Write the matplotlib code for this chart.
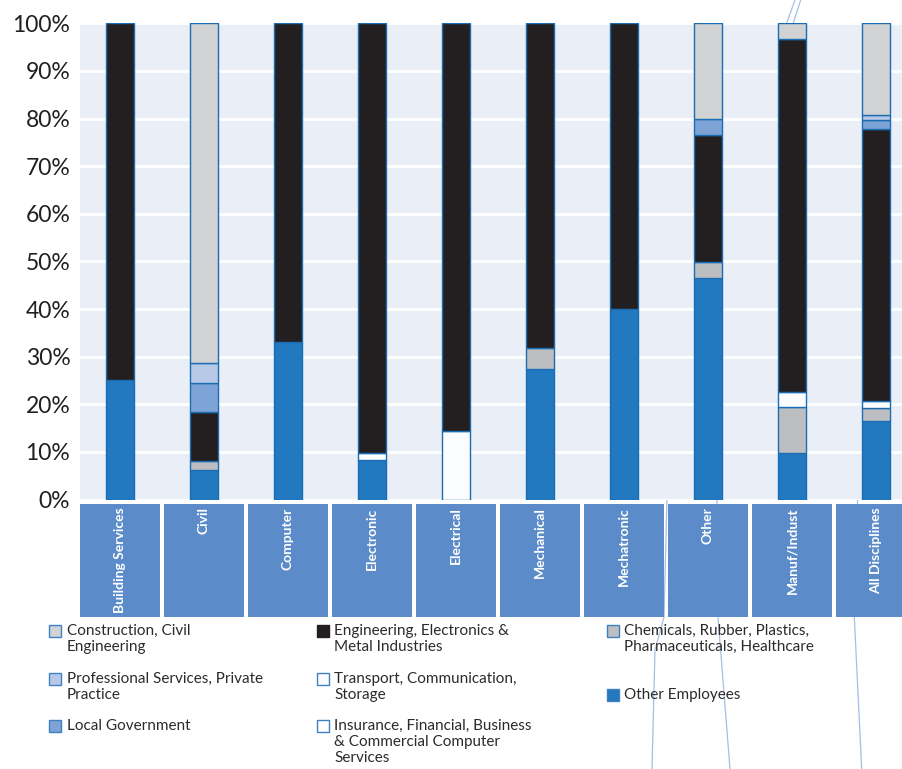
import matplotlib
matplotlib.use("Agg")
import matplotlib.pyplot as plt
from matplotlib.patches import Rectangle
from matplotlib.lines import Line2D
from matplotlib.transforms import blended_transform_factory

# ---------------------------------------------------------------------------
# Data: share of graduates (%) by employer sector, per engineering discipline
# ---------------------------------------------------------------------------
categories = ["Building Services", "Civil", "Computer", "Electronic", "Electrical",
              "Mechanical", "Mechatronic", "Other", "Manuf/Indust", "All Disciplines"]

other_employees = [25.1, 6.2, 33.1, 8.2, 0.0, 27.4, 40.1, 46.6, 9.7, 16.5]
chemicals = [0.0, 1.95, 0.0, 0.0, 0.0, 4.4, 0.0, 3.2, 9.7, 2.8]
transport = [0.0, 0.0, 0.0, 0.0, 14.4, 0.0, 0.0, 0.0, 3.2, 0.0]
insurance = [0.0, 0.0, 0.0, 1.5, 0.0, 0.0, 0.0, 0.0, 0.0, 1.4]
engineering = [74.9, 10.15, 66.9, 90.3, 85.6, 68.2, 59.9, 26.7, 74.1, 57.0]
local_government = [0.0, 6.1, 0.0, 0.0, 0.0, 0.0, 0.0, 3.5, 0.0, 2.0]
professional = [0.0, 4.3, 0.0, 0.0, 0.0, 0.0, 0.0, 0.0, 0.0, 1.0]
construction = [0.0, 71.3, 0.0, 0.0, 0.0, 0.0, 0.0, 20.0, 3.3, 19.3]

y_ticks = [0, 10, 20, 30, 40, 50, 60, 70, 80, 90, 100]
y_tick_labels = [f"{v}%" for v in y_ticks]

# stacking order, bottom to top
series = [
    ("Other Employees", other_employees, "#2279c0"),
    ("Chemicals, Rubber, Plastics,\nPharmaceuticals, Healthcare", chemicals, "#bdbec1"),
    ("Transport, Communication,\nStorage", transport, "#fafcff"),
    ("Insurance, Financial, Business\n& Commercial Computer\nServices", insurance, "#ffffff"),
    ("Engineering, Electronics &\nMetal Industries", engineering, "#231f20"),
    ("Local Government", local_government, "#7ea3d6"),
    ("Professional Services, Private\nPractice", professional, "#b8c9e8"),
    ("Construction, Civil\nEngineering", construction, "#d1d2d4"),
]
colors = {name: c for name, _, c in series}

# ---------------------------------------------------------------------------
W, H = 903, 769
fig = plt.figure(figsize=(W / 100, H / 100), dpi=100)
fig.patch.set_facecolor("white")
plt.rcParams["font.family"] = ["Lato", "DejaVu Sans"]


def fx(px):
    return px / W


def fy(py):
    return 1 - py / H


ax_left, ax_right, ax_top, ax_bottom = 80, 903, 23.3, 499.5
ax = fig.add_axes([fx(ax_left), fy(ax_bottom), fx(ax_right - ax_left),
                   (ax_bottom - ax_top) / H])
ax.set_facecolor("#e9eef7")
for s in ax.spines.values():
    s.set_visible(False)

spacing = 84.0
ax.set_xlim(-40 / spacing, (ax_right - 120) / spacing)
ax.set_ylim(0, 100)
ax.set_yticks(y_ticks)
ax.set_yticklabels(y_tick_labels, fontsize=16.5, color="#231f20")
ax.set_xticks([])
ax.tick_params(axis="y", length=0, pad=7)
ax.yaxis.grid(True, color="white", linewidth=2)
ax.set_axisbelow(True)

x = list(range(len(categories)))
bottom = [0.0] * len(categories)
bar_w = 0.34
for name, vals, col in series:
    xs = [xi for xi, v in zip(x, vals) if v > 0]
    hs = [v for v in vals if v > 0]
    bs = [b for b, v in zip(bottom, vals) if v > 0]
    ax.bar(xs, hs, bottom=bs, width=bar_w, color=col, edgecolor="#1b6db3",
           linewidth=1.0, zorder=3)
    bottom = [b + v for b, v in zip(bottom, vals)]

# category label boxes under the plot
tr = blended_transform_factory(ax.transData, ax.transAxes)
box_h_top = -(504 - ax_bottom) / (ax_bottom - ax_top)
box_h_bot = -(617 - ax_bottom) / (ax_bottom - ax_top)
half = 40 / spacing
for xi, cat in zip(x, categories):
    ax.add_patch(Rectangle((xi - half, box_h_bot), 2 * half, box_h_top - box_h_bot,
                           transform=tr, facecolor="#5b8bc8", edgecolor="none",
                           clip_on=False, zorder=2))
    ax.text(xi, -(507.5 - ax_bottom) / (ax_bottom - ax_top), cat, transform=tr,
            rotation=90, ha="center", va="top", color="white", fontsize=10,
            fontweight="bold", clip_on=False, zorder=4)

# legend, three columns
legend_items = [
    ("Construction, Civil\nEngineering", 49.3, 631),
    ("Professional Services, Private\nPractice", 49.3, 679),
    ("Local Government", 49.3, 726),
    ("Engineering, Electronics &\nMetal Industries", 316.7, 631),
    ("Transport, Communication,\nStorage", 316.7, 679),
    ("Insurance, Financial, Business\n& Commercial Computer\nServices", 316.7, 726),
    ("Chemicals, Rubber, Plastics,\nPharmaceuticals, Healthcare", 607, 631),
    ("Other Employees", 607, 695),
]
sq = 12
for label, mx, my in legend_items:
    col = colors[label]
    edge = "#231f20" if col == "#231f20" else "#3f80c2"
    fig.add_artist(Rectangle((fx(mx), fy(my + sq / 2)), sq / W, sq / H,
                             transform=fig.transFigure, facecolor=col,
                             edgecolor=edge, linewidth=1.0))
    for i, line in enumerate(label.split("\n")):
        fig.text(fx(mx + 17.4), fy(my + 16 * i), line, ha="left", va="center",
                 fontsize=11, color="#2b2b2b")

# thin connector lines running behind the chart
connector_lines = [
    ([786.7, 795.0], [23, 0]),
    ([793.3, 800.7], [23, 0]),
    ([667, 664, 655, 652], [497, 617, 650, 769]),
    ([717, 718, 730], [497, 617, 769]),
    ([857.7, 854.3, 861.7], [497, 617, 769]),
]
for xs_, ys_ in connector_lines:
    fig.add_artist(Line2D([fx(v) for v in xs_], [fy(v) for v in ys_],
                          transform=fig.transFigure, color="#a6bfe3",
                          linewidth=0.9, zorder=-1))

fig.savefig("out.png", dpi=100)
